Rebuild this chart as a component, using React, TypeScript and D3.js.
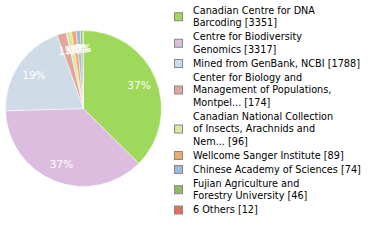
import React from "react";
import * as d3 from "d3";

const categories = [
  "Canadian Centre for DNA Barcoding",
  "Centre for Biodiversity Genomics",
  "Mined from GenBank, NCBI",
  "Center for Biology and Management of Populations, Montpel...",
  "Canadian National Collection of Insects, Arachnids and Nem...",
  "Wellcome Sanger Institute",
  "Chinese Academy of Sciences",
  "Fujian Agriculture and Forestry University",
  "6 Others",
];
const values = [3351, 3317, 1788, 174, 96, 89, 74, 46, 12];
const legendLines = [
  ["Canadian Centre for DNA", "Barcoding [3351]"],
  ["Centre for Biodiversity", "Genomics [3317]"],
  ["Mined from GenBank, NCBI [1788]"],
  ["Center for Biology and", "Management of Populations,", "Montpel... [174]"],
  ["Canadian National Collection", "of Insects, Arachnids and", "Nem... [96]"],
  ["Wellcome Sanger Institute [89]"],
  ["Chinese Academy of Sciences [74]"],
  ["Fujian Agriculture and", "Forestry University [46]"],
  ["6 Others [12]"],
];
const colors = [
  "#9fd95b",
  "#dcbde0",
  "#cfdbe6",
  "#e0a79d",
  "#dfe4a2",
  "#f0aa6c",
  "#9cb9de",
  "#90bf62",
  "#de7159",
];

export default function App() {
  const W = 380, H = 240;
  const cx = 83.5, cy = 108.5, R = 78;
  const total = d3.sum(values);
  const pie = d3.pie<number>().sort(null).value((d) => d)(values);
  const arc = d3.arc<d3.PieArcDatum<number>>().innerRadius(0).outerRadius(R);
  const labelArc = d3.arc<d3.PieArcDatum<number>>().innerRadius(R * 0.77).outerRadius(R * 0.77);

  const lineH = 12.5, gap = 1.5;
  let y = 10;
  const items = legendLines.map((lines, i) => {
    const top = y;
    y += lines.length * lineH + gap;
    return { lines, top, i };
  });

  return (
    <svg width={W} height={H} style={{ position: "absolute", left: 0, top: 0, fontFamily: "DejaVu Sans" }}>
      <g transform={`translate(${cx},${cy})`}>
        {pie.map((p, i) => (
          <path key={i} d={arc(p) || ""} fill={colors[i]} stroke="#fff" strokeWidth={0.5} />
        ))}
        {pie.map((p, i) => {
          const [x, yy] = labelArc.centroid(p);
          return (
            <text key={i} x={x} y={yy} textAnchor="middle" dominantBaseline="central" fill="#fff" fontSize={10.5}>
              {Math.floor((values[i] / total) * 100)}%
            </text>
          );
        })}
      </g>
      {items.map(({ lines, top, i }) => {
        const mid = top + ((lines.length - 1) * lineH) / 2;
        return (
          <g key={i}>
            <rect x={174.5} y={mid - 3.5} width={8} height={8} fill={colors[i]} stroke="#888" strokeWidth={1} />
            {lines.map((l, j) => (
              <text key={j} x={193} y={top + j * lineH} dominantBaseline="central" fontSize={9.7} fill="#000">
                {l}
              </text>
            ))}
          </g>
        );
      })}
    </svg>
  );
}
